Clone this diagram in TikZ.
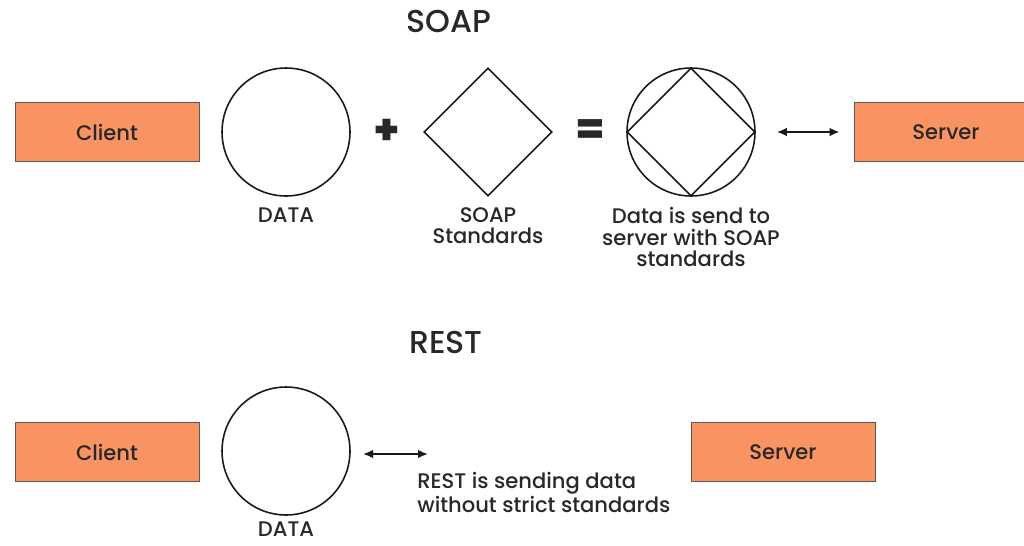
\documentclass[tikz,border=0pt]{standalone}
\usepackage{fontspec}
\setmainfont{Poppins Medium}
\usepackage{tikz}
\usetikzlibrary{positioning,shapes.geometric,arrows.meta}
\definecolor{boxorange}{RGB}{249,148,98}
\definecolor{inkgray}{RGB}{40,40,40}

\begin{document}
\begin{tikzpicture}[x=0.02cm,y=-0.02cm,font=\fontsize{12}{12}\selectfont,text=inkgray]
            \tikzstyle{box}=[draw=black!65,fill=boxorange,minimum width=3.68cm,minimum height=1.18cm,inner sep=0]
            \tikzstyle{data circle}=[circle,draw=black!90,line width=0.9pt,minimum size=2.56cm,inner sep=0]
            \tikzstyle{std diamond}=[diamond,draw=black!90,line width=0.9pt,minimum size=2.56cm,inner sep=0,aspect=1]
            \tikzstyle{sign}=[font=\fontsize{24}{24}\selectfont\bfseries,inner sep=0]
            \tikzstyle{title}=[font=\fontsize{18}{20}\selectfont,inner sep=0]
            \tikzstyle{label}=[align=center,anchor=north,inner sep=0]
            \tikzstyle{short label}=[anchor=north,inner sep=0]
            \tikzstyle{twoway}=[{Latex[length=2mm,width=1.7mm]}-{Latex[length=2mm,width=1.7mm]},line width=1pt,black!90]
            \useasboundingbox (0,0) rectangle (1024,545);
            % SOAP
            \node[title] (soap) at (449,21) {SOAP};
            \node[box] (client1) at (107,132) {Client};
            \node[data circle] (data1) at (286,132) {};
            \node[short label] (data1lbl) at (286,207) {DATA};
            \node[sign] (plus) at (387,132) {+};
            \node[std diamond] (std) at (488,132) {};
            \node[label,font=\fontsize{12}{12.2}\selectfont] (stdlbl) at (488,207) {SOAP\\Standards};
            \node[sign] (equals) at (590,132) {=};
            \node[data circle] (msg) at (691,132) {};
            \node[std diamond] (msgstd) at (msg) {};
            \node[label,font=\fontsize{12}{12.2}\selectfont] (msglbl) at (691,207) {Data is send to\\server with SOAP\\standards};
            \node[box] (server1) at (946,132) {Server};
            \draw[twoway,shorten <=21*0.02cm,shorten >=14*0.02cm] (msg) -- (server1);
            % REST
            \node[title] (rest) at (446,342) {REST};
            \node[box] (client2) at (107,452) {Client};
            \node[data circle] (data2) at (286,451) {};
            \node[short label] (data2lbl) at (286,521) {DATA};
            \coordinate (send1) at (363,454);
            \coordinate (send2) at (428,454);
            \draw[twoway] (send1) -- (send2);
            \node[align=left,anchor=north west,inner sep=0,font=\fontsize{12}{10.2}\selectfont] (restlbl) at (417,472) {REST is sending data\\without strict standards};
            \node[box] (server2) at (783,452) {Server};
          \end{tikzpicture}
\end{document}
